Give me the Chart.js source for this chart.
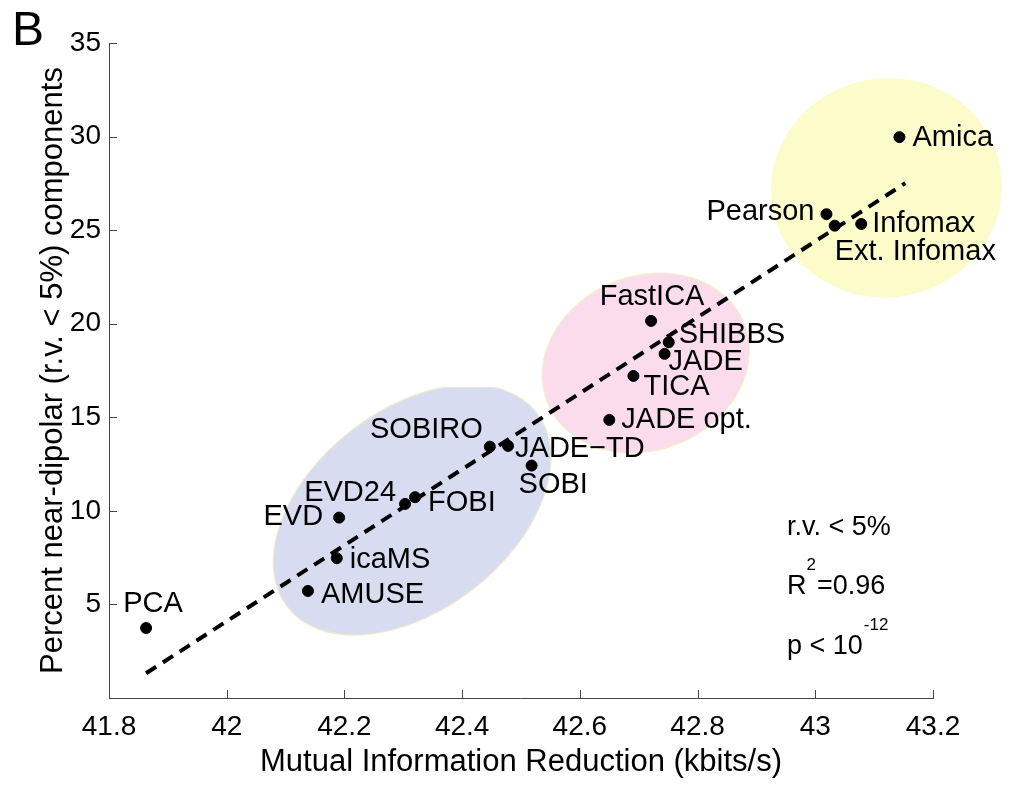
<!DOCTYPE html>
<html>
<head>
<meta charset="utf-8">
<script src="https://cdn.jsdelivr.net/npm/chart.js@4.4.1/dist/chart.umd.min.js"></script>
<style>
  html, body { margin: 0; padding: 0; background: #fff; }
  #wrap { width: 1015px; height: 785px; }
</style>
</head>
<body>
<div id="wrap"><canvas id="chart" width="1015" height="785"></canvas></div>
<script>
// ICA methods: mutual information reduction vs percent near-dipolar components
const methods = ['PCA', 'AMUSE', 'icaMS', 'EVD', 'EVD24', 'FOBI', 'SOBIRO', 'JADE\u2212TD', 'SOBI',
  'JADE opt.', 'TICA', 'JADE', 'SHIBBS', 'FastICA', 'Pearson', 'Ext. Infomax', 'Infomax', 'Amica'];
const miReduction = [41.863, 42.138, 42.187, 42.191, 42.303, 42.320, 42.447, 42.478, 42.518,
  42.650, 42.691, 42.744, 42.751, 42.721, 43.019, 43.033, 43.078, 43.143];
const pctDipolar = [3.74, 5.72, 7.47, 9.64, 10.37, 10.73, 13.43, 13.47, 12.42,
  14.86, 17.21, 18.39, 19.01, 20.15, 25.85, 25.24, 25.33, 29.97];

// regression line end points
const fitX = [41.863, 43.153];
const fitY = [1.32, 27.51];

const xTickValues = [41.8, 42, 42.2, 42.4, 42.6, 42.8, 43, 43.2];
const yTickValues = [5, 10, 15, 20, 25, 30, 35];

const FONT = '"Liberation Sans", Arial, Helvetica, sans-serif';

// label placement next to each dot: [align, dx, dy]
const labelPos = [
  ['center', 7, -24], ['left', 13, 4], ['left', 13, 2], ['right', -16, -1],
  ['right', -9, -11], ['left', 13, 6], ['right', -7, -17], ['left', 7, 3],
  ['left', -13, 19], ['left', 12, 0], ['left', 10, 11], ['left', 4, 8],
  ['left', 10, -7], ['center', 1, -24], ['right', -12, -2], ['left', 0, 26],
  ['left', 11, 0], ['left', 13, 1]
];

// shaded groups (centre in data units, radii in px)
const clusters = [
  { x: 43.121, y: 27.26, rx: 115, ry: 109, rot: -10, fill: '#fcfccb', edge: '#fcfccb' },
  { x: 42.712, y: 17.9, rx: 106, ry: 87, rot: -22, fill: '#fadcec', edge: '#f3f0c4' },
  { x: 42.315, y: 10.05, rx: 158, ry: 100, rot: -38, fill: '#d7dcf1', edge: '#efedc8', clipTop: 16.6 }
];

const clusterPlugin = {
  id: 'clusters',
  beforeDatasetsDraw(chart) {
    const { ctx, scales: { x, y } } = chart;
    clusters.forEach(c => {
      ctx.save();
      if (c.clipTop != null) {
        ctx.beginPath();
        ctx.rect(0, y.getPixelForValue(c.clipTop), chart.width, chart.height);
        ctx.clip();
      }
      ctx.beginPath();
      ctx.ellipse(x.getPixelForValue(c.x), y.getPixelForValue(c.y), c.rx, c.ry,
        c.rot * Math.PI / 180, 0, Math.PI * 2);
      ctx.fillStyle = c.fill;
      ctx.fill();
      ctx.strokeStyle = c.edge;
      ctx.lineWidth = 1.2;
      ctx.stroke();
      ctx.restore();
    });
  }
};

const labelPlugin = {
  id: 'pointLabels',
  afterDatasetsDraw(chart) {
    const { ctx } = chart;
    const meta = chart.getDatasetMeta(0);
    ctx.save();
    ctx.font = '29px ' + FONT;
    ctx.fillStyle = '#000';
    ctx.textBaseline = 'middle';
    meta.data.forEach((pt, i) => {
      const [align, dx, dy] = labelPos[i];
      ctx.textAlign = align;
      ctx.fillText(methods[i], pt.x + dx, pt.y + dy);
    });
    ctx.restore();
  }
};

const axisPlugin = {
  id: 'innerTicks',
  afterDraw(chart) {
    const { ctx, chartArea, scales: { x, y } } = chart;
    ctx.save();
    ctx.strokeStyle = '#444';
    ctx.lineWidth = 1;
    ctx.beginPath();
    xTickValues.forEach(v => {
      const px = Math.round(x.getPixelForValue(v)) + 0.5;
      ctx.moveTo(px, chartArea.bottom);
      ctx.lineTo(px, chartArea.bottom - 8);
    });
    yTickValues.forEach(v => {
      const py = Math.round(y.getPixelForValue(v)) + 0.5;
      ctx.moveTo(chartArea.left, py);
      ctx.lineTo(chartArea.left + 8, py);
    });
    ctx.stroke();

    // panel letter
    ctx.fillStyle = '#000';
    ctx.textBaseline = 'alphabetic';
    ctx.textAlign = 'left';
    ctx.font = '48px ' + FONT;
    ctx.fillText('B', 12, 45);

    // statistics note
    const ax = x.getPixelForValue(42.952);
    ctx.font = '27px ' + FONT;
    ctx.fillText('r.v. < 5%', ax, y.getPixelForValue(8.7));
    const rY = y.getPixelForValue(5.55);
    ctx.fillText('R', ax, rY);
    let w = ctx.measureText('R').width;
    ctx.font = '17px ' + FONT;
    ctx.fillText('2', ax + w, rY - 24);
    w += ctx.measureText('2').width + 1;
    ctx.font = '27px ' + FONT;
    ctx.fillText('=0.96', ax + w, rY);
    const pY = y.getPixelForValue(2.33);
    ctx.fillText('p < 10', ax, pY);
    w = ctx.measureText('p < 10').width + 1;
    ctx.font = '17px ' + FONT;
    ctx.fillText('-12', ax + w, pY - 24);
    ctx.restore();
  }
};

new Chart(document.getElementById('chart'), {
  type: 'scatter',
  data: {
    datasets: [
      {
        label: 'methods',
        data: miReduction.map((v, i) => ({ x: v, y: pctDipolar[i] })),
        backgroundColor: '#000',
        borderColor: '#000',
        pointRadius: 5.5,
        pointHoverRadius: 5.5
      },
      {
        type: 'line',
        label: 'fit',
        data: fitX.map((v, i) => ({ x: v, y: fitY[i] })),
        borderColor: '#000',
        borderWidth: 4,
        borderDash: [12, 8],
        pointRadius: 0,
        fill: false
      }
    ]
  },
  options: {
    responsive: false,
    animation: false,
    layout: { padding: { top: 43, right: 82, bottom: 0, left: 0 } },
    plugins: {
      legend: { display: false },
      tooltip: { enabled: false }
    },
    scales: {
      x: {
        type: 'linear',
        min: 41.8,
        max: 43.2,
        afterBuildTicks: s => { s.ticks = xTickValues.map(v => ({ value: v })); },
        afterFit: s => { s.height = 87; },
        grid: { display: false, drawTicks: false },
        border: { display: true, color: '#444', width: 1 },
        ticks: { color: '#000', padding: 12, font: { family: FONT, size: 28 }, callback: v => String(v) },
        title: { display: true, text: 'Mutual Information Reduction (kbits/s)', color: '#000',
          font: { family: FONT, size: 31 }, padding: { top: 0, bottom: 4 } }
      },
      y: {
        type: 'linear',
        min: 0,
        max: 35,
        afterBuildTicks: s => { s.ticks = yTickValues.map(v => ({ value: v })); },
        afterFit: s => { s.width = 109; },
        grid: { display: false, drawTicks: false },
        border: { display: true, color: '#444', width: 1 },
        ticks: { color: '#000', padding: 8, font: { family: FONT, size: 28 }, callback: v => String(v) },
        title: { display: true, text: 'Percent near-dipolar (r.v. < 5%) components', color: '#000',
          font: { family: FONT, size: 31 }, padding: { top: 35, bottom: 0 } }
      }
    }
  },
  plugins: [clusterPlugin, labelPlugin, axisPlugin]
});
</script>
</body>
</html>
